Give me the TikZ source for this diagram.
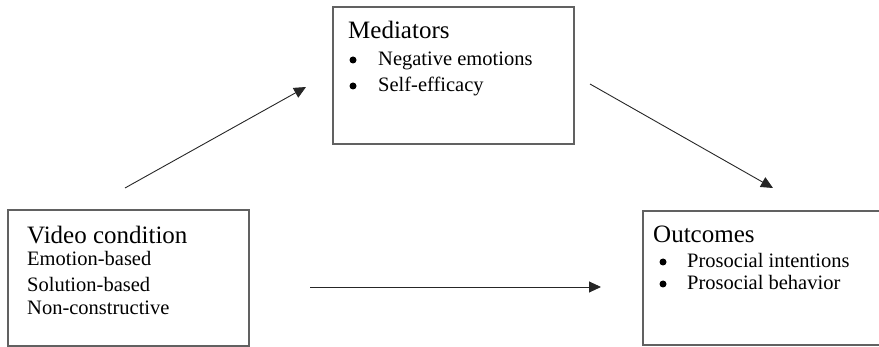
\documentclass[tikz,border=0pt]{standalone}
\usepackage{fontspec}
\setmainfont{Liberation Serif}
\usetikzlibrary{arrows.meta}
\begin{document}
\begin{tikzpicture}[x=1pt,y=-1pt,
  boxframe/.style={draw=black!62,line width=1.1pt},
  ttl/.style={anchor=base west,inner sep=0pt,font=\fontsize{25}{28}\selectfont},
  itm/.style={anchor=base west,inner sep=0pt,font=\fontsize{20.5}{24}\selectfont},
  bul/.style={circle,fill=black,inner sep=0pt,minimum size=7pt},
  conn/.style={draw=black!85,line width=0.9pt,-{Triangle[length=12pt,width=11pt]}}]
\clip (0,0) rectangle (879,347);
\useasboundingbox (0,0) rectangle (879,347);
% boxes
\draw[boxframe] (333,7) rectangle (574,144);
\draw[boxframe] (8,210) rectangle (249,346);
\draw[boxframe] (643,211) rectangle (885,345);
% Mediators
\node[ttl] (medT) at (348,39) {Mediators};
\node[bul] (medB1) at (353,60) {};
\node[itm] (med1) at (378,66) {Negative emotions};
\node[bul] (medB2) at (353,86) {};
\node[itm] (med2) at (378,92) {Self-efficacy};
% Video condition
\node[ttl] (vidT) at (27,244) {Video condition};
\node[itm] (vid1) at (27,266) {Emotion-based};
\node[itm] (vid2) at (27,292) {Solution-based};
\node[itm] (vid3) at (27,315) {Non-constructive};
% Outcomes
\node[ttl] (outT) at (653,243) {Outcomes};
\node[bul] (outB1) at (663,262) {};
\node[itm] (out1) at (687,268) {Prosocial intentions};
\node[bul] (outB2) at (663,284) {};
\node[itm] (out2) at (687,290) {Prosocial behavior};
% arrows
\coordinate (a1s) at (125,188);
\coordinate (a1e) at (306,87);
\coordinate (a2s) at (590,84);
\coordinate (a2e) at (773,188);
\coordinate (a3s) at (310,287);
\coordinate (a3e) at (601,287);
\draw[conn] (a1s) -- (a1e);
\draw[conn] (a2s) -- (a2e);
\draw[conn] (a3s) -- (a3e);
\end{tikzpicture}
\end{document}
